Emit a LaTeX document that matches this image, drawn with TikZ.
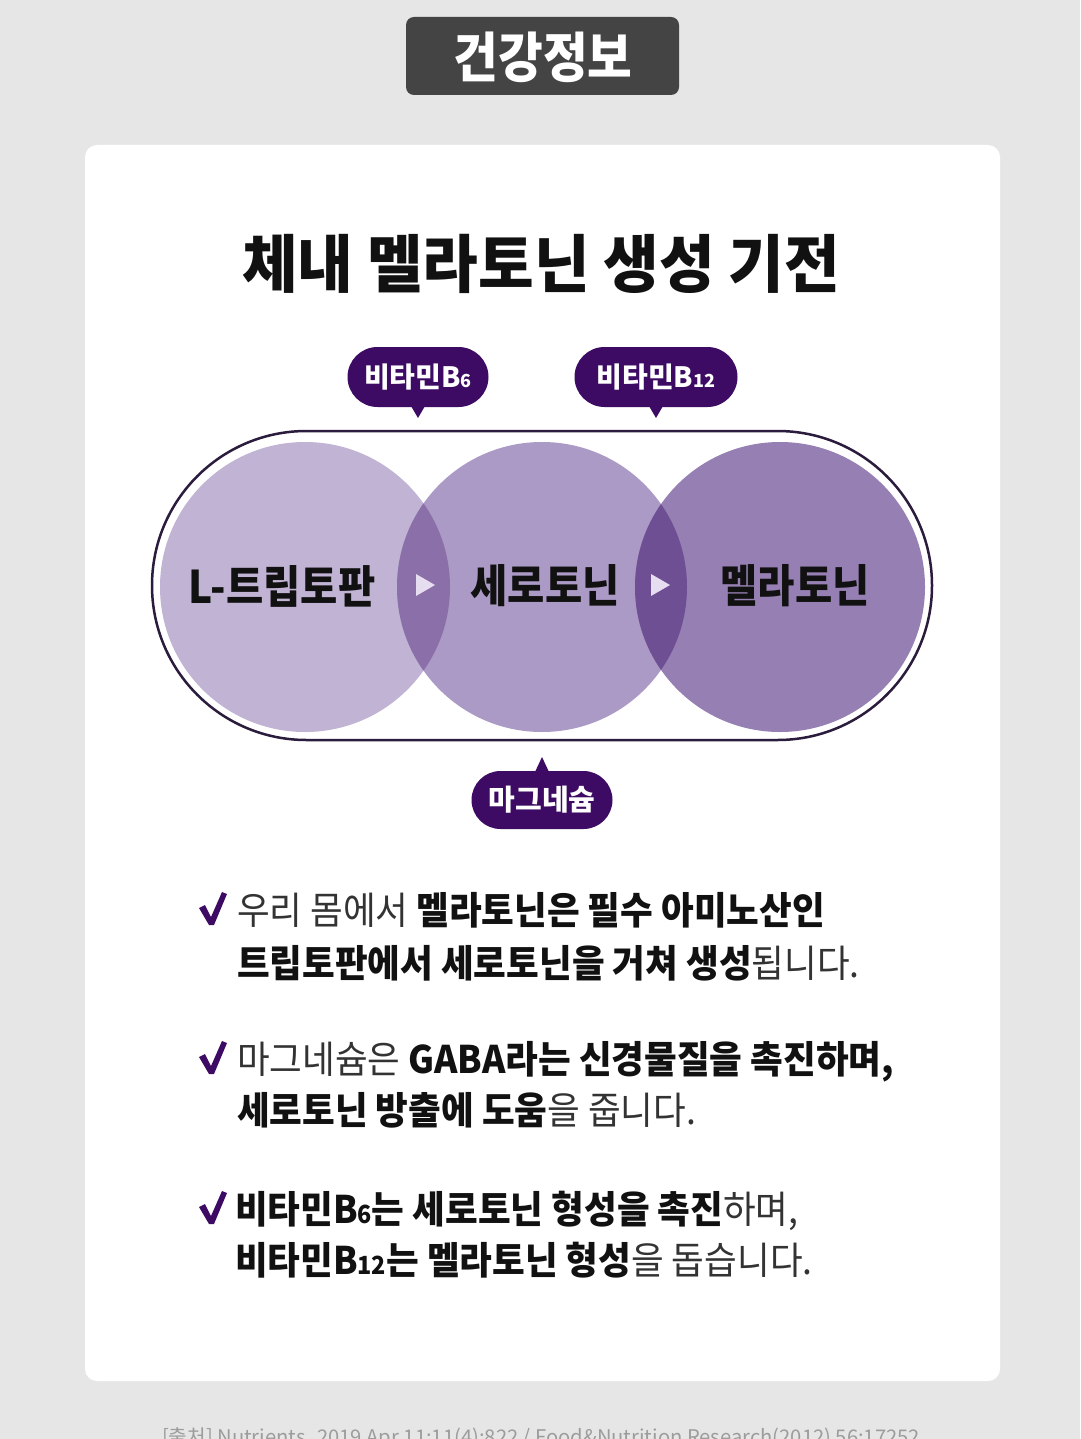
\documentclass[tikz,border=0pt]{standalone}
\usepackage{fontspec}
\usepackage{graphicx}
\setmainfont{Noto Sans CJK KR}
\usetikzlibrary{positioning,shapes.misc}
\definecolor{pageGray}{HTML}{E6E6E6}
\definecolor{tabGray}{HTML}{444444}
\definecolor{badgePurple}{HTML}{3D0B63}
\definecolor{trpColor}{HTML}{C1B3D3}
\definecolor{serColor}{HTML}{AC9AC6}
\definecolor{melColor}{HTML}{967FB3}
\definecolor{lensA}{HTML}{8B6FA8}
\definecolor{lensB}{HTML}{6F4F93}
\definecolor{rimColor}{HTML}{2B1B3D}
\definecolor{tipColor}{HTML}{E6DDF0}
\definecolor{inkBlack}{HTML}{111111}
\definecolor{inkSoft}{HTML}{333333}
\definecolor{noteGray}{HTML}{9C9C9C}
\newcommand{\sz}[2]{\fontsize{#1}{#2}\selectfont}
\newcommand{\narrow}[2]{\scalebox{#1}[1]{#2}}

\begin{document}
\begin{tikzpicture}[x=1pt, y=-1pt,
  every node/.style={inner sep=0pt, outer sep=0pt},
  headline/.style={font=\sz{63}{70}\bfseries, text=inkBlack},
  stage/.style={font=\sz{45}{50}\bfseries, text=inkBlack},
  badge/.style={rounded rectangle, fill=badgePurple, text=white, minimum height=60, font=\sz{28}{30}\bfseries},
  bodyline/.style={anchor=base west, font=\sz{38}{44}, text=inkSoft},
  tick/.pic={\fill[badgePurple] (-13,-5) -- (-7,-8) -- (-1,4) -- (10,-21) -- (15,-19) -- (2,12) -- (-3,12) -- cycle;}
]
  \useasboundingbox (0,0) rectangle (1080,1439);
  \fill[pageGray] (0,0) rectangle (1080,1439);

  % header tab and card
  \fill[tabGray, rounded corners=8] (406,17) rectangle (679,95);
  \node[font=\sz{54}{60}\bfseries, text=white] (tab) at (543,57) {\narrow{0.9}{건강정보}};
  \fill[white, rounded corners=12] (85,145) rectangle (1000,1381);

  \node[headline] (title) at (541,264) {\narrow{0.96}{체내 멜라토닌 생성 기전}};

  % three circles
  \coordinate (trp) at (305,587);
  \coordinate (ser) at (542,587);
  \coordinate (mel) at (780,587);
  \draw[rimColor, line width=2.5, rounded corners=154.5] (152,431) rectangle (932,740);
  \fill[trpColor] (trp) circle[radius=145];
  \fill[serColor] (ser) circle[radius=145];
  \fill[melColor] (mel) circle[radius=145];
  \begin{scope}
    \clip (trp) circle[radius=145];
    \fill[lensA] (ser) circle[radius=145];
  \end{scope}
  \begin{scope}
    \clip (ser) circle[radius=145];
    \fill[lensB] (mel) circle[radius=145];
  \end{scope}
  \fill[tipColor] (416,574) -- (435,585) -- (416,596) -- cycle;
  \fill[tipColor] (651,574) -- (670,585) -- (651,596) -- cycle;

  \node[stage] (trpLabel) at (282,586) {\narrow{0.9}{L-트립토판}};
  \node[stage] (serLabel) at (545,586) {\narrow{0.9}{세로토닌}};
  \node[stage] (melLabel) at (795,586) {\narrow{0.9}{멜라토닌}};

  % cofactor badges
  \node[badge, minimum width=141] (b6) at (418,377) {비타민B{\sz{18}{20}6}};
  \fill[badgePurple] (b6.south) ++(-7,-1) -- ++(7,12) -- ++(7,-12) -- cycle;
  \node[badge, minimum width=163] (b12) at (656,377) {비타민B{\sz{18}{20}12}};
  \fill[badgePurple] (b12.south) ++(-7,-1) -- ++(7,12) -- ++(7,-12) -- cycle;
  \node[badge, minimum width=141, minimum height=58, font=\sz{29}{30}\bfseries] (mg) at (542,800) {마그네슘};
  \fill[badgePurple] (mg.north) ++(-7,1) -- ++(7,-15) -- ++(7,15) -- cycle;

  % notes
  \pic at (212,913) {tick};
  \node[bodyline] (note1a) at (237,924) {\narrow{0.935}{우리 몸에서 \textbf{\color{inkBlack}멜라토닌은 필수 아미노산인}}};
  \node[bodyline] (note1b) at (237,977) {\narrow{0.935}{\textbf{\color{inkBlack}트립토판에서 세로토닌을 거쳐 생성}됩니다.}};
  \pic at (212,1062) {tick};
  \node[bodyline] (note2a) at (237,1073) {\narrow{0.935}{마그네슘은 \textbf{\color{inkBlack}GABA라는 신경물질을 촉진하며,}}};
  \node[bodyline] (note2b) at (237,1124) {\narrow{0.935}{\textbf{\color{inkBlack}세로토닌 방출에 도움}을 줍니다.}};
  \pic at (212,1212) {tick};
  \node[bodyline] (note3a) at (235,1223) {\narrow{0.935}{\textbf{\color{inkBlack}비타민B{\sz{25}{30}6}는 세로토닌 형성을 촉진}하며,}};
  \node[bodyline] (note3b) at (235,1274) {\narrow{0.935}{\textbf{\color{inkBlack}비타민B{\sz{25}{30}12}는 멜라토닌 형성}을 돕습니다.}};

  \node[anchor=base, font=\sz{20.2}{24}, text=noteGray] (source) at (541,1444) {[출처] Nutrients. 2019 Apr 11;11(4):822 / Food\&Nutrition Research(2012) 56:17252};
\end{tikzpicture}
\end{document}
